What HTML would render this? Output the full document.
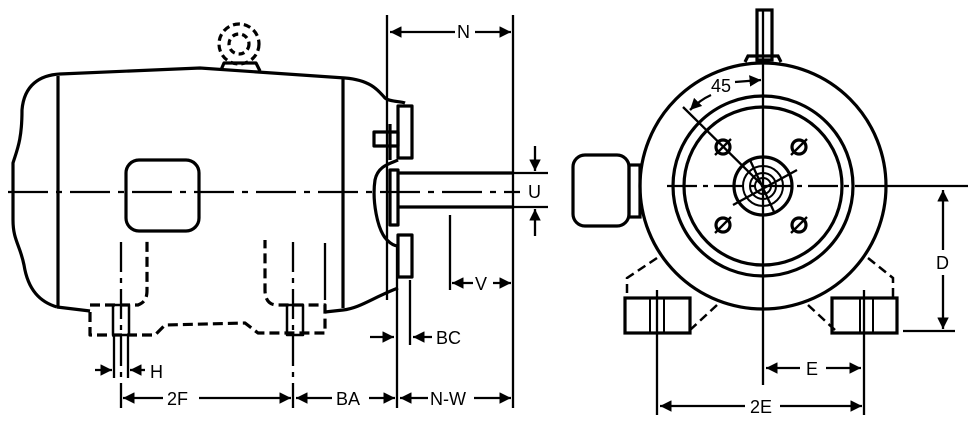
<!DOCTYPE html>
<html><head><style>
html,body{margin:0;padding:0;background:#fff;}
svg{display:block;}
text{font-family:"Liberation Sans",sans-serif;font-size:18px;fill:#000;}
</style></head><body>
<svg width="970" height="421" viewBox="0 0 970 421" xmlns="http://www.w3.org/2000/svg">
<defs>
<marker id="a" viewBox="0 0 10 10" refX="10" refY="5" markerWidth="5" markerHeight="5" orient="auto-start-reverse"><path d="M0,0 L10,5 L0,10 z" fill="#000"/></marker>
</defs>
<g fill="none" stroke="#000" stroke-width="3.2" stroke-linejoin="round">
<path d="M57,307 C40,302 28,290 24,265 C20,245 13,240 13,220 L13,163 C17,150 22,140 22,110 C24,85 40,75 60,74 L200,68 L345,78 C370,80 378,90 385,98 C390,102 400,101 405,103"/>
<line x1="58" y1="76" x2="58" y2="307"/>
<line x1="343" y1="78" x2="343" y2="308"/>
<path d="M57,307 L90,311"/>
<path d="M325,312 L343,310 C360,308 372,298 398,288"/>
<rect x="126" y="160" width="73" height="71" rx="13"/>
<rect x="398" y="106" width="14" height="52"/>
<rect x="374" y="132" width="24" height="14"/>
<line x1="390" y1="124" x2="390" y2="160"/>
<path d="M398,160 C392,163 378,165 375,180 C372,200 377,230 387,240 C392,245 396,246 398,246"/>
<rect x="390" y="170" width="8" height="55"/>
<rect x="398" y="235" width="14" height="42"/>
<path d="M398,173 L513,173 M398,207 L513,207" />
<line x1="513" y1="173" x2="548" y2="173" stroke-width="2.2"/>
<line x1="513" y1="207" x2="548" y2="207" stroke-width="2.2"/>
<circle cx="239" cy="44" r="20" stroke-dasharray="7,4"/>
<circle cx="239" cy="44" r="10" stroke-dasharray="6,4"/>
<path d="M221,70 L224,63 L256,63 L260,71"/>
<g stroke-dasharray="10,5">
<path d="M90,312 L90,335 L155,335 L165,325 L245,323 L258,333 L325,333 L325,305 L277,305 C268,305 265,298 265,290 L265,240"/>
<path d="M90,305 L130,305 L138,305 C145,302 147,298 147,290 L147,240"/>
</g>
<rect x="113" y="305" width="16" height="30" stroke-width="2.5"/>
<rect x="287" y="305" width="16" height="30" stroke-width="2.5"/>
</g>
<g fill="none" stroke="#000" stroke-width="2.3">
<line x1="8" y1="192" x2="520" y2="192" stroke-dasharray="40,8,6,8"/>
<line x1="121" y1="242" x2="121" y2="408" stroke-dasharray="30,6,5,6"/>
<line x1="293" y1="242" x2="293" y2="408" stroke-dasharray="30,6,5,6"/>
<line x1="325" y1="243" x2="325" y2="300"/>
<line x1="114" y1="335" x2="114" y2="378"/>
<line x1="128" y1="335" x2="128" y2="378"/>
<line x1="387" y1="15" x2="387" y2="300"/>
<line x1="397" y1="245" x2="397" y2="408"/>
<line x1="513" y1="15" x2="513" y2="408"/>
<line x1="410" y1="280" x2="410" y2="345"/>
<line x1="450" y1="215" x2="450" y2="290"/>
<line x1="95" y1="370" x2="112" y2="370" marker-end="url(#a)"/>
<line x1="145" y1="370" x2="130" y2="370" marker-end="url(#a)"/>
<line x1="370" y1="337" x2="394" y2="337" marker-end="url(#a)"/>
<line x1="432" y1="337" x2="413" y2="337" marker-end="url(#a)"/>
<line x1="123" y1="398" x2="163" y2="398" marker-start="url(#a)"/>
<line x1="199" y1="398" x2="291" y2="398" marker-end="url(#a)"/>
<line x1="296" y1="398" x2="332" y2="398" marker-start="url(#a)"/>
<line x1="369" y1="398" x2="395" y2="398" marker-end="url(#a)"/>
<line x1="400" y1="398" x2="428" y2="398" marker-start="url(#a)"/>
<line x1="474" y1="398" x2="511" y2="398" marker-end="url(#a)"/>
<line x1="390" y1="32" x2="455" y2="32" marker-start="url(#a)"/>
<line x1="475" y1="32" x2="511" y2="32" marker-end="url(#a)"/>
<line x1="452" y1="283" x2="473" y2="283" marker-start="url(#a)"/>
<line x1="493" y1="283" x2="511" y2="283" marker-end="url(#a)"/>
<line x1="535" y1="146" x2="535" y2="171" marker-end="url(#a)"/>
<line x1="535" y1="236" x2="535" y2="209" marker-end="url(#a)"/>
</g>
<text x="457" y="38">N</text>
<text x="475" y="290">V</text>
<text x="528" y="198">U</text>
<text x="436" y="344">BC</text>
<text x="150" y="378">H</text>
<text x="167" y="405">2F</text>
<text x="336" y="405">BA</text>
<text x="430" y="405">N-W</text>

<g fill="none" stroke="#000" stroke-width="3.2">
<circle cx="763" cy="186" r="123"/>
<circle cx="763" cy="186" r="90"/>
<circle cx="763" cy="186" r="79"/>
<circle cx="763" cy="186" r="29"/>
<circle cx="763" cy="186" r="20" stroke-width="2"/>
<circle cx="763" cy="186" r="13" stroke-width="2"/>
<circle cx="763" cy="186" r="8" stroke-width="2"/>
<rect x="757" y="10" width="15" height="50"/>
<path d="M745,62 L748,56 L778,56 L781,62"/>
<rect x="573" y="155" width="56" height="71" rx="12"/>
<rect x="629" y="165" width="11" height="52"/>
<circle cx="723" cy="147" r="7"/><circle cx="799" cy="147" r="7"/>
<circle cx="723" cy="225" r="7"/><circle cx="799" cy="225" r="7"/>
<rect x="625" y="298" width="65" height="35"/>
<rect x="832" y="298" width="65" height="35"/>
<line x1="650" y1="298" x2="650" y2="333" stroke-width="2"/>
<line x1="664" y1="298" x2="664" y2="333" stroke-width="2"/>
<line x1="860" y1="298" x2="860" y2="333" stroke-width="2"/>
<line x1="873" y1="298" x2="873" y2="333" stroke-width="2"/>
<g stroke-dasharray="9,5" stroke-width="2.5">
<path d="M657,258 L627,278 L627,298"/>
<path d="M717,305 L690,330"/>
<path d="M868,258 L893,278 L893,298"/>
<path d="M808,305 L835,330"/>
</g>
</g>
<g fill="none" stroke="#000" stroke-width="2.3">
<line x1="715" y1="155" x2="731" y2="139"/><line x1="791" y1="155" x2="807" y2="139"/>
<line x1="715" y1="233" x2="731" y2="217"/><line x1="791" y1="233" x2="807" y2="217"/>
<line x1="667" y1="186" x2="885" y2="186" stroke-dasharray="30,6,5,6"/>
<line x1="885" y1="186" x2="968" y2="186"/>
<line x1="763" y1="10" x2="763" y2="385"/>
<line x1="683" y1="107" x2="763" y2="186"/>
<line x1="733" y1="205" x2="797" y2="170"/>
<line x1="750" y1="160" x2="775" y2="214"/>
<path d="M711,95 Q700,100 690,110" marker-end="url(#a)"/>
<line x1="735" y1="82" x2="761" y2="80" marker-end="url(#a)"/>
<line x1="657" y1="290" x2="657" y2="415"/>
<line x1="864" y1="290" x2="864" y2="415"/>
<line x1="903" y1="331" x2="955" y2="331"/>
<line x1="943" y1="250" x2="943" y2="190" marker-end="url(#a)"/>
<line x1="943" y1="275" x2="943" y2="329" marker-end="url(#a)"/>
<line x1="766" y1="368" x2="800" y2="368" marker-start="url(#a)"/>
<line x1="826" y1="368" x2="861" y2="368" marker-end="url(#a)"/>
<line x1="660" y1="406" x2="745" y2="406" marker-start="url(#a)"/>
<line x1="780" y1="406" x2="862" y2="406" marker-end="url(#a)"/>
</g>
<text x="711" y="92">45</text>
<text x="936" y="269">D</text>
<text x="806" y="375">E</text>
<text x="750" y="413">2E</text>
</svg>
</body></html>
